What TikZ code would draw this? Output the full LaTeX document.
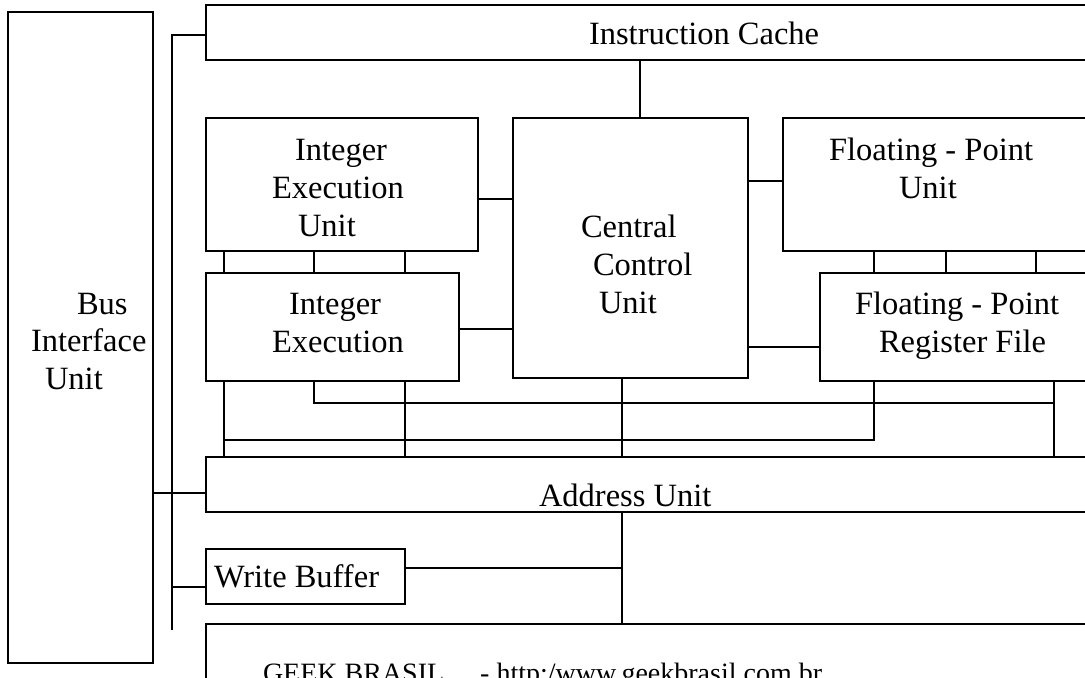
\documentclass[tikz,border=0pt]{standalone}
\usepackage{fontspec}
\setmainfont{Liberation Serif}
\usetikzlibrary{fit}
\begin{document}
\begin{tikzpicture}[x=0.5pt,y=-0.5pt,line width=1pt,
  box/.style={draw,rectangle,inner sep=0pt,line width=1pt},
  txt/.style={inner sep=0pt,anchor=base west,font=\fontsize{16.25pt}{18.75pt}\selectfont},
  smalltxt/.style={inner sep=0pt,anchor=base west,font=\fontsize{14pt}{16pt}\selectfont}]
\useasboundingbox (0,0) rectangle (1085,677);
\clip (0,0) rectangle (1085,677);
% boxes
\node[box,fit={(8,12) (153,663)}] (biu) {};
\node[box,fit={(206,5) (1100,60)}] (ic) {};
\node[box,fit={(206,118) (478,251)}] (ieu) {};
\node[box,fit={(513,118) (748,378)}] (ccu) {};
\node[box,fit={(783,118) (1100,251)}] (fpu) {};
\node[box,fit={(206,273) (459,381)}] (ie) {};
\node[box,fit={(820,273) (1100,381)}] (fpr) {};
\node[box,fit={(206,457) (1100,512)}] (au) {};
\node[box,fit={(206,549) (405,604)}] (wb) {};
\node[box,fit={(206,624) (1100,720)}] (geek) {};
% texts
\node[txt] (tbus1) at (76,314) {Bus};
\node[txt] (tbus2) at (30,351) {Interface};
\node[txt] (tbus3) at (44,389) {Unit};
\node[txt] (tic) at (588,44) {Instruction Cache};
\node[txt] (tieu1) at (294,160) {Integer};
\node[txt] (tieu2) at (271,198) {Execution};
\node[txt] (tieu3) at (297,236) {Unit};
\node[txt] (tie1) at (288,314) {Integer};
\node[txt] (tie2) at (271,352) {Execution};
\node[txt] (tccu1) at (580,237) {Central};
\node[txt] (tccu2) at (592,275) {Control};
\node[txt] (tccu3) at (598,313) {Unit};
\node[txt] (tfpu1) at (828,160) {Floating - Point};
\node[txt] (tfpu2) at (898,198) {Unit};
\node[txt] (tfpr1) at (854,314) {Floating - Point};
\node[txt] (tfpr2) at (878,352) {Register File};
\node[txt] (tau) at (538,506) {Address Unit};
\node[txt] (twb) at (213,587) {Write Buffer};
\node[smalltxt] (tgeek) at (262,682) {GEEK BRASIL\hspace{18pt}- http:/www.geekbrasil.com.br};
% bus
\coordinate (bustop) at (172,35);
\coordinate (busbot) at (172,630);
\draw (ic.west |- bustop) -- (bustop) -- (busbot);
\draw (biu.east |- 0,493) -- (au.west |- 0,493);
\draw (busbot |- 0,587) -- (wb.west |- 0,587);
% instruction cache to control
\draw (ic.south -| 640,0) -- (ccu.north -| 640,0);
% ccu links
\draw (ieu.east |- 0,199) -- (ccu.west |- 0,199);
\draw (ie.east |- 0,329) -- (ccu.west |- 0,329);
\draw (ccu.east |- 0,181) -- (fpu.west |- 0,181);
\draw (ccu.east |- 0,347) -- (fpr.west |- 0,347);
% short verticals
\foreach \x in {224,314,405} \draw (ieu.south -| \x,0) -- (ie.north -| \x,0);
\foreach \x in {874,946,1036} \draw (fpu.south -| \x,0) -- (fpr.north -| \x,0);
% to address unit
\coordinate (j1) at (314,403);
\coordinate (j2) at (1054,403);
\coordinate (j3) at (224,440);
\coordinate (j4) at (874,440);
\draw (ie.south -| 224,0) -- (au.north -| 224,0);
\draw (ie.south -| 405,0) -- (au.north -| 405,0);
\draw (ie.south -| j1) -- (j1) -- (j2);
\draw (fpr.south -| j2) -- (au.north -| j2);
\draw (j3) -- (j4) -- (fpr.south -| j4);
\draw (ccu.south -| 622,0) -- (au.north -| 622,0);
% below address unit
\draw (au.south -| 622,0) -- (geek.north -| 622,0);
\draw (wb.east |- 0,568) -- (622,568);
\end{tikzpicture}
\end{document}
